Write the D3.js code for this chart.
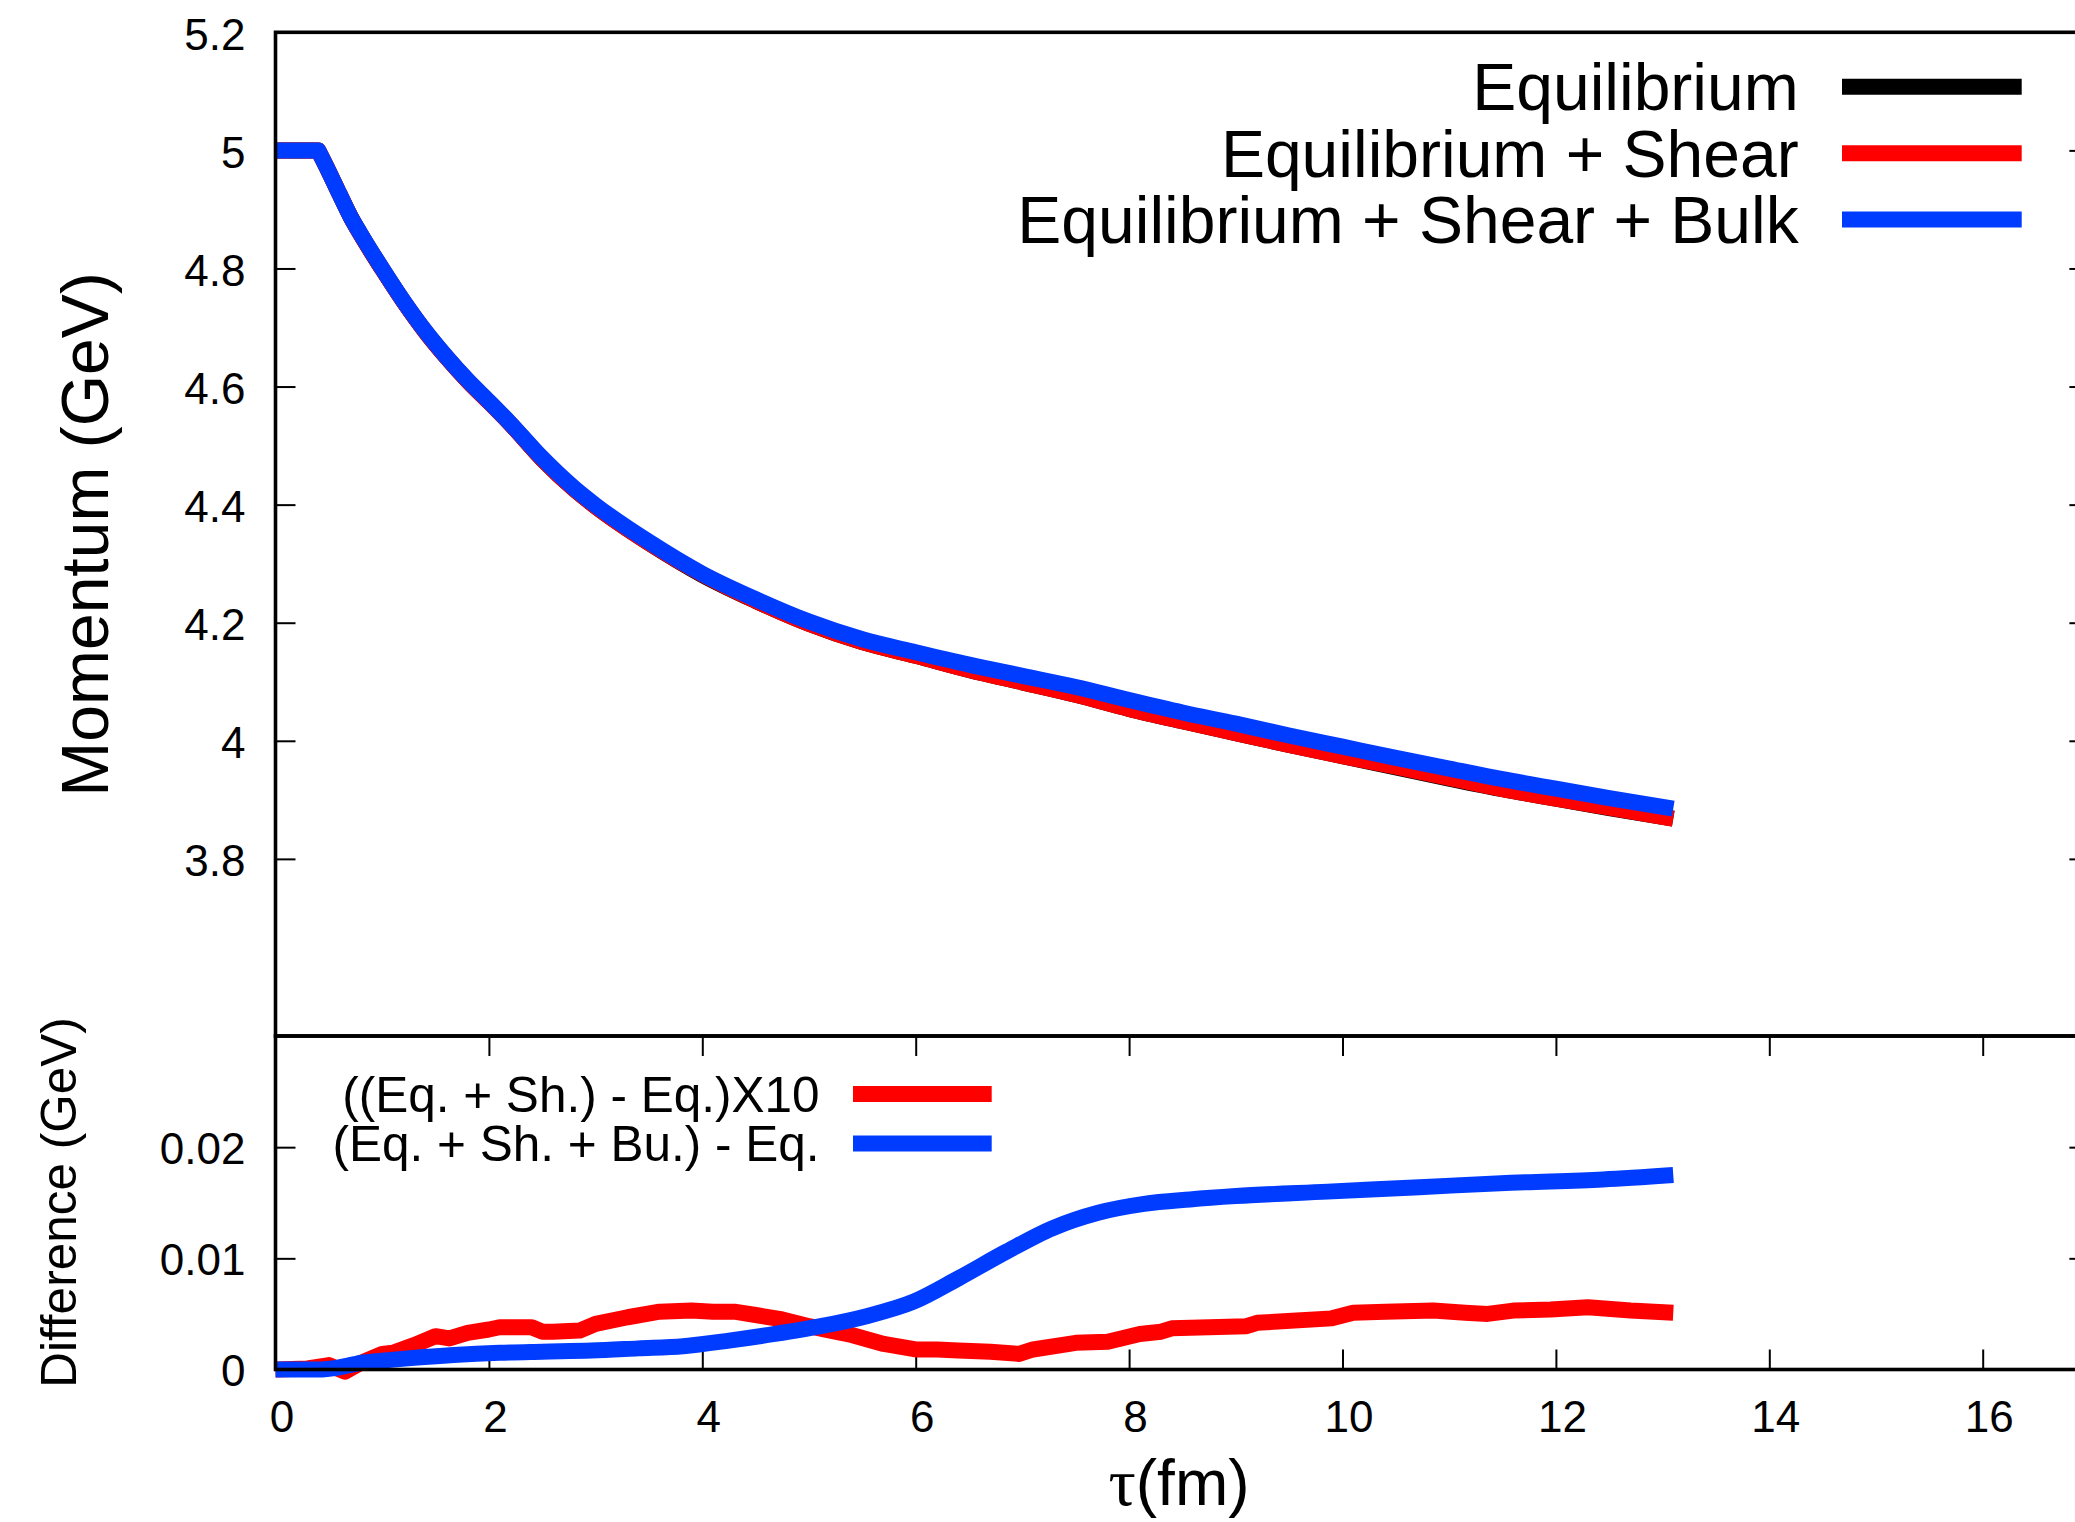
<!DOCTYPE html>
<html>
<head>
<meta charset="utf-8">
<script src="https://cdn.jsdelivr.net/npm/d3@7"></script>
<style>
  html, body { margin: 0; padding: 0; background: #fff; }
  svg { display: block; font-family: "Liberation Sans", Arial, Helvetica, sans-serif; }
</style>
</head>
<body>
<svg id="chart" width="2075" height="1522"></svg>
<script>
// τ grid of the momentum panel (fm)
const tau = [0, 0.4, 0.5, 0.6, 0.7, 0.8, 1.0, 1.2, 1.4, 1.6, 1.8, 2.0, 2.2, 2.5, 2.8, 3.0, 3.5, 4.0, 4.5,
  5.0, 5.5, 6.0, 6.5, 7.0, 7.5, 8.0, 8.5, 9.0, 9.5, 10.0, 10.5, 11.0, 11.5, 12.0, 12.5, 13.1];

// Momentum (GeV) for the three evolutions
const eq = [5.000, 5.000, 4.964, 4.926, 4.889, 4.857, 4.799, 4.744, 4.694, 4.650, 4.610, 4.574, 4.537, 4.477,
  4.426, 4.397, 4.335, 4.281, 4.237, 4.198, 4.167, 4.144, 4.120, 4.099, 4.078, 4.054, 4.033, 4.013, 3.993,
  3.974, 3.955, 3.936, 3.918, 3.902, 3.886, 3.868];
const eqShear = [5.000, 5.000, 4.964, 4.926, 4.889, 4.857, 4.799, 4.744, 4.694, 4.650, 4.610, 4.574, 4.537, 4.477,
  4.426, 4.397, 4.335, 4.282, 4.237, 4.198, 4.167, 4.144, 4.120, 4.099, 4.078, 4.054, 4.033, 4.013, 3.993,
  3.974, 3.956, 3.937, 3.918, 3.902, 3.887, 3.868];
const eqShearBulk = [5.000, 5.000, 4.964, 4.926, 4.889, 4.858, 4.800, 4.745, 4.695, 4.651, 4.611, 4.575, 4.538,
  4.479, 4.428, 4.399, 4.337, 4.283, 4.240, 4.202, 4.172, 4.150, 4.129, 4.110, 4.091, 4.069, 4.048, 4.029,
  4.009, 3.990, 3.971, 3.953, 3.935, 3.919, 3.903, 3.885];

// ((Eq. + Sh.) - Eq.) x 10, GeV
const tauShear = [0, 0.3, 0.5, 0.65, 0.8, 1.0, 1.1, 1.3, 1.5, 1.63, 1.8, 2.0, 2.1, 2.4, 2.5, 2.6, 2.85, 3.0, 3.3,
  3.6, 3.9, 4.1, 4.3, 4.5, 4.75, 5.0, 5.2, 5.4, 5.7, 6.0, 6.2, 6.4, 6.7, 6.97, 7.1, 7.5, 7.8, 8.1, 8.3, 8.4,
  9.1, 9.2, 9.9, 10.1, 10.4, 10.85, 11.15, 11.36, 11.6, 11.95, 12.3, 12.7, 13.1];
const shearDiffX10 = [0, 0.0001, 0.0004, -0.0002, 0.0006, 0.0014, 0.0015, 0.0022, 0.0030, 0.0028, 0.0033, 0.0036,
  0.0038, 0.0038, 0.0034, 0.0034, 0.0035, 0.0041, 0.0047, 0.0052, 0.0053, 0.0052, 0.0052, 0.0049, 0.0045,
  0.0039, 0.0035, 0.0031, 0.0023, 0.0018, 0.0018, 0.0017, 0.0016, 0.0014, 0.0018, 0.0024, 0.0025, 0.0032,
  0.0034, 0.0037, 0.0039, 0.0042, 0.0046, 0.0051, 0.0052, 0.0053, 0.0051, 0.0050, 0.0053, 0.0054, 0.0056,
  0.0053, 0.0051];

// (Eq. + Sh. + Bu.) - Eq., GeV
const tauBulk = [0, 0.4, 0.6, 0.8, 1.0, 1.24, 1.67, 2.1, 2.5, 2.96, 3.4, 3.82, 4.25, 4.68, 5.11, 5.54, 5.98, 6.4,
  6.85, 7.28, 7.71, 8.14, 8.57, 9.0, 9.86, 10.72, 11.58, 12.44, 13.1];
const bulkDiff = [0, 0, 0.0002, 0.0006, 0.0008, 0.0010, 0.0013, 0.0015, 0.0016, 0.0017, 0.0019, 0.0021, 0.0026,
  0.0032, 0.0039, 0.0048, 0.0061, 0.0082, 0.0106, 0.0127, 0.0141, 0.0149, 0.0153, 0.0156, 0.0160, 0.0164,
  0.0168, 0.0171, 0.0175];

// Axis ticks
const xTicks = [0, 2, 4, 6, 8, 10, 12, 14, 16];
const topTicks = [3.8, 4.0, 4.2, 4.4, 4.6, 4.8, 5.0, 5.2];
const bottomTicks = [0, 0.01, 0.02];

// Legend entries
const topLegend = ["Equilibrium", "Equilibrium + Shear", "Equilibrium + Shear + Bulk"];
const bottomLegend = ["((Eq. + Sh.) - Eq.)X10", "(Eq. + Sh. + Bu.) - Eq."];

const RED = "#ff0000", BLUE = "#003cff", BLACK = "#000000";

const svg = d3.select("#chart");
svg.append("rect").attr("width", 2075).attr("height", 1522).attr("fill", "#fff");

// Layout: the panels share the τ axis; the right frame sits just past the page edge.
const left = 275.5, right = 2089.4;
const topY0 = 32.3, midY = 1036, botY = 1369.5;

const x = d3.scaleLinear().domain([0, 17]).range([left, right]);
const yTop = d3.scaleLinear().domain([3.5, 5.2]).range([midY, topY0]);
const yBot = d3.scaleLinear().domain([0, 0.03]).range([botY, midY]);

const fmt = d3.format("~g");
const TICK = 20;
const tickFont = 44;

function styleAxis(g, showLabels) {
  g.select(".domain").remove();
  g.selectAll(".tick line").attr("stroke", "#000").attr("stroke-width", 2);
  g.selectAll(".tick text")
    .attr("fill", "#000")
    .style("font-size", tickFont + "px")
    .style("font-family", "'Liberation Sans', Arial, Helvetica, sans-serif");
  if (!showLabels) g.selectAll(".tick text").remove();
}

// Momentum panel axes
svg.append("g").attr("transform", `translate(${left},0)`)
  .call(d3.axisLeft(yTop).tickValues(topTicks).tickSize(-TICK).tickPadding(30).tickFormat(fmt))
  .call(g => styleAxis(g, true))
  .call(g => g.selectAll(".tick text").attr("dy", "0.38em"));
svg.append("g").attr("transform", `translate(${right},0)`)
  .call(d3.axisRight(yTop).tickValues(topTicks).tickSize(-TICK))
  .call(g => styleAxis(g, false));

// Difference panel axes
svg.append("g").attr("transform", `translate(${left},0)`)
  .call(d3.axisLeft(yBot).tickValues(bottomTicks).tickSize(-TICK).tickPadding(30).tickFormat(fmt))
  .call(g => styleAxis(g, true))
  .call(g => g.selectAll(".tick text").attr("dy", "0.36em"));
svg.append("g").attr("transform", `translate(${right},0)`)
  .call(d3.axisRight(yBot).tickValues(bottomTicks).tickSize(-TICK))
  .call(g => styleAxis(g, false));
svg.append("g").attr("transform", `translate(0,${botY})`)
  .call(d3.axisBottom(x).tickValues(xTicks).tickSize(-TICK).tickPadding(31).tickFormat(fmt))
  .call(g => styleAxis(g, true))
  .call(g => g.selectAll(".tick text").attr("dx", 6));
svg.append("g").attr("transform", `translate(0,${midY})`)
  .call(d3.axisTop(x).tickValues(xTicks).tickSize(-TICK))
  .call(g => styleAxis(g, false));

// Curves
const linear = d3.line().x(d => x(d[0])).y(d => d[1]);
const smooth = d3.line().x(d => x(d[0])).y(d => d[1]).curve(d3.curveMonotoneX);

function pts(xs, ys, scale) { return xs.map((t, i) => [t, scale(ys[i])]); }

function drawPath(d, color) {
  svg.append("path")
    .attr("d", d)
    .attr("fill", "none")
    .attr("stroke", color)
    .attr("stroke-width", 16)
    .attr("stroke-linejoin", "round")
    .attr("stroke-linecap", "butt");
}

// Momentum: flat start, then a smooth decay that begins with a sharp corner
function momentumPath(ys) {
  const p = pts(tau, ys, yTop);
  const head = linear(p.slice(0, 2));
  const tail = smooth(p.slice(1)).replace(/^M/, "L");
  return head + tail;
}
drawPath(momentumPath(eq), BLACK);
drawPath(momentumPath(eqShear), RED);
drawPath(momentumPath(eqShearBulk), BLUE);

drawPath(linear(pts(tauShear, shearDiffX10, yBot)), RED);
drawPath(smooth(pts(tauBulk, bulkDiff, yBot)), BLUE);

// Frames
const frame = svg.append("g").attr("fill", "none").attr("stroke", "#000").attr("stroke-width", 3.6);
frame.append("rect").attr("x", left).attr("y", topY0).attr("width", right - left).attr("height", midY - topY0);
frame.append("rect").attr("x", left).attr("y", midY).attr("width", right - left).attr("height", botY - midY);

// Momentum panel legend
const topColors = [BLACK, RED, BLUE];
const topRowY = [86.7, 153.3, 219.5];
topLegend.forEach((label, i) => {
  svg.append("text")
    .attr("x", 1798.7).attr("y", topRowY[i]).attr("dy", "0.36em")
    .attr("text-anchor", "end")
    .style("font-size", "66px")
    .text(label);
  svg.append("line")
    .attr("x1", 1842).attr("x2", 2021.7)
    .attr("y1", topRowY[i]).attr("y2", topRowY[i])
    .attr("stroke", topColors[i]).attr("stroke-width", 16);
});

// Difference panel legend
const botColors = [RED, BLUE];
const botRowY = [1094, 1143.4];
bottomLegend.forEach((label, i) => {
  svg.append("text")
    .attr("x", 819.5).attr("y", botRowY[i]).attr("dy", "0.36em")
    .attr("text-anchor", "end")
    .style("font-size", "49.5px")
    .text(label);
  svg.append("line")
    .attr("x1", 853).attr("x2", 991.7)
    .attr("y1", botRowY[i]).attr("y2", botRowY[i])
    .attr("stroke", botColors[i]).attr("stroke-width", 16);
});

// Axis titles
svg.append("text")
  .attr("transform", "translate(108,534.5) rotate(-90)")
  .attr("text-anchor", "middle")
  .style("font-size", "66px")
  .text("Momentum (GeV)");

svg.append("text")
  .attr("transform", "translate(76,1202.5) rotate(-90)")
  .attr("text-anchor", "middle")
  .style("font-size", "49.5px")
  .text("Difference (GeV)");

const xTitle = svg.append("text")
  .attr("x", 1179).attr("y", 1505)
  .attr("text-anchor", "middle")
  .style("font-size", "64px");
xTitle.append("tspan").style("font-family", "'Liberation Serif', 'DejaVu Serif', serif").style("font-size", "68px").text("τ");
xTitle.append("tspan").text("(fm)");
</script>
</body>
</html>
